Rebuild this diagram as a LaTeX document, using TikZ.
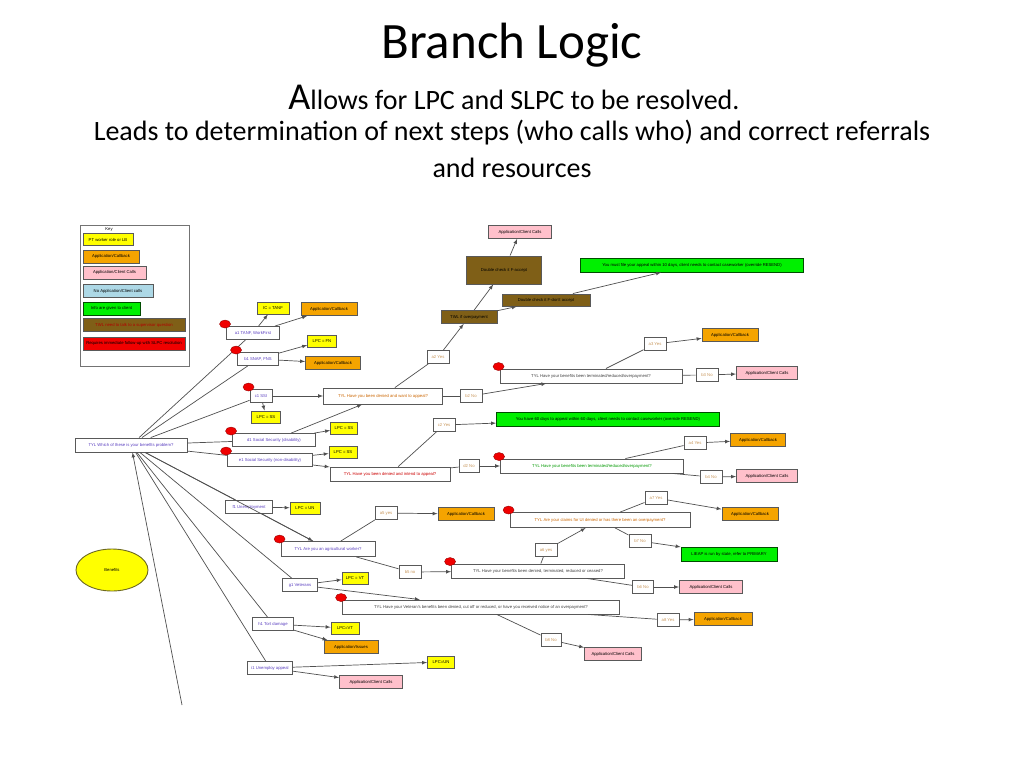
\documentclass[tikz,border=0pt]{standalone}
\usepackage{fontspec}
\setmainfont{Carlito}
\newfontfamily\dgfont{Liberation Sans}
\usepackage{xcolor}
\usepackage{tikz}
\usetikzlibrary{shapes.geometric}
\definecolor{qblue}{HTML}{5A3FC0}
\definecolor{ansc}{HTML}{C8965A}
\definecolor{dgyellow}{HTML}{FFFF00}
\definecolor{dgorange}{HTML}{F5A400}
\definecolor{dgpink}{HTML}{FFC0CB}
\definecolor{dgblue}{HTML}{ADD8E6}
\definecolor{dggreen}{HTML}{00F000}
\definecolor{dgbrown}{HTML}{7F5F17}
\definecolor{dgred}{HTML}{F00000}
\definecolor{edgec}{HTML}{505050}

\begin{document}
\begin{tikzpicture}[x=1pt,y=-1pt,
	txt/.style={font=\dgfont\fontsize{4.2}{5}\selectfont},
	box/.style={txt,draw=black!65,line width=0.9pt,fill=white,inner sep=0.5pt,minimum height=13,minimum width=#1},
	qbox/.style={box=#1,minimum height=14},
	ans/.style={box=22,text=ansc},
	ybox/.style={box=#1,fill=dgyellow,minimum height=12},
	obox/.style={box=#1,fill=dgorange},
	pbox/.style={box=#1,fill=dgpink},
	gbox/.style={box=#1,fill=dggreen,draw=green!30!black,minimum height=14},
	bbox/.style={box=#1,fill=dgbrown},
	line/.style={draw=edgec,line width=0.7pt},
	edge/.style={line,-latex}]
	% page
	\fill[white] (0,0) rectangle (1024,768);
	\useasboundingbox (0,0) rectangle (1024,768);

	% Draw title
	\node[font=\fontsize{51}{56}\selectfont] (title) at (512,45) {Branch Logic};
	\node[font=\fontsize{28}{32}\selectfont] (sub1) at (514,97) {{\fontsize{38}{40}\selectfont A}llows for LPC and SLPC to be resolved.};
	\node[font=\fontsize{28}{32}\selectfont] (sub2) at (512,133) {Leads to determination of next steps (who calls who) and correct referrals};
	\node[font=\fontsize{28}{32}\selectfont] (sub3) at (512,168) {and resources};

	% Draw key
	\draw[draw=black!55,line width=0.9pt] (80,225) rectangle (189,366);
	\node[txt] (keyt) at (109,229) {Key};
	\node[ybox=50] (kyel) at (108,239.5) {PT worker role or LB};
	\node[obox=56] (kora) at (111,256.5) {Application/Callback};
	\node[pbox=63] (kpnk) at (114.5,272.5) {Application/Client Calls};
	\node[box=70,fill=dgblue] (kblu) at (118,291) {No Application/Client calls};
	\node[gbox=57,minimum height=13] (kgrn) at (111.5,308.5) {Info are given to client};
	\node[bbox=102,text=red!70!black] (kbrn) at (134,325) {TWL need to talk to a supervisor question};
	\node[box=102,fill=dgred] (kred) at (134,343.5) {Requires immediate follow-up with SLPC resolution};

	\node[ellipse,draw=olive!70!black,fill=dgyellow,line width=0.9pt,minimum width=72,minimum height=42,txt] (benef) at (112,570) {Benefits};

	% Draw root and first branches
	\node[qbox=112,text=qblue] (tyl0) at (131,445) {TYL Which of these is your benefits problem?};
	\node[box=53,text=qblue] (a1) at (253,333) {a1 TANF, WorkFirst};
	\node[box=41,text=qblue] (b1) at (258,359) {b1 SNAP, FNS};
	\node[box=22,text=qblue] (c1) at (261,396) {c1 SSI};
	\node[box=83,text=qblue] (d1) at (274,440) {d1 Social Security (disability)};
	\node[box=85,text=qblue] (e1) at (270,460) {e1 Social Security (non-disability)};
	\node[box=47,text=qblue] (f1) at (249,507) {f1 Unemployment};
	\node[box=35,text=qblue] (g1) at (300,585) {g1 Veterans};
	\node[box=41,text=qblue] (h1) at (273,624) {h1 Tort damage};
	\node[box=45,text=qblue] (i1) at (270,668) {i1 Unemploy appeal};
	\coordinate (bot) at (182,705);

	% Draw lpc and callback boxes
	\node[ybox=32] (ya1) at (273,308) {IC = TANF};
	\node[ybox=29] (yb1) at (322,341) {LPC = FN};
	\node[ybox=29] (yc1) at (266,417) {LPC = SS};
	\node[ybox=27] (yd1) at (344,428) {LPC = SS};
	\node[ybox=28] (ye1) at (343,452) {LPC = SS};
	\node[ybox=30] (yf1) at (305,508) {LPC = UN};
	\node[ybox=26] (yg1) at (355,578) {LPC = VT};
	\node[ybox=28] (yh1) at (345,628) {LPC=VT};
	\node[ybox=27] (yi1) at (441,662) {LPC=UN};
	\node[obox=56] (oa1) at (329,309) {Application/Callback};
	\node[obox=55] (ob1) at (333,363) {Application/Callback};
	\node[obox=54] (oh1) at (351,647) {Application/Issues};
	\node[pbox=63] (pi1) at (371,682) {Application/Client Calls};

	% Draw question boxes
	\node[qbox=119,minimum height=16,text=orange!80!black] (tylc1) at (383,396) {TYL Have you been denied and want to appeal?};
	\node[qbox=120,text=red!80!black] (tyle1) at (390,474) {TYL Have you been denied and intend to appeal?};
	\node[qbox=182,text=black!75] (term1) at (591,376) {TYL Have your benefits been terminated/reduced/overpayment?};
	\node[qbox=183,text=green!60!black] (term2) at (592,466) {TYL Have your benefits been terminated/reduced/overpayment?};
	\node[qbox=94,minimum height=15,text=qblue] (tylagr) at (328,549) {TYL Are you an agricultural worker?};
	\node[qbox=180,minimum height=15,text=orange!80!black] (claim) at (600,520) {TYL Are your claims for UI denied or has there been an overpayment?};
	\node[qbox=173,text=black!75] (tylden) at (538,571) {TYL Have your benefits been denied, terminated, reduced or ceased?};
	\node[qbox=277,text=black!75] (tylvet) at (481,607) {TYL Have your Veteran's benefits been denied, cut off or reduced, or have you received notice of an overpayment?};

	% Draw answers
	\node[ans] (a2) at (438,357) {a2 Yes};
	\node[ans] (b2) at (471,396) {b2 No};
	\node[ans] (a3) at (655,344) {a3 Yes};
	\node[ans] (b3) at (707,375) {b3 No};
	\node[ans] (c2) at (444,425) {c2 Yes};
	\node[ans,minimum width=20] (d2) at (469,466) {d2 No};
	\node[ans] (a4) at (695,443) {a4 Yes};
	\node[ans] (b4) at (711,477) {b4 No};
	\node[ans] (a5) at (386,513) {a5 yes};
	\node[ans] (b5) at (410,572) {b5 no};
	\node[ans] (a6) at (546,550) {a6 yes};
	\node[ans] (a7) at (656,498) {a7 Yes};
	\node[ans] (b7) at (640,541) {b7 No};
	\node[ans,minimum width=21] (b6) at (643,587) {b6 No};
	\node[ans,minimum width=20] (b8) at (551,640) {b8 No};
	\node[ans] (a8) at (668,620) {a8 Yes};

	% Draw outcomes
	\node[bbox=56] (twl) at (469,317) {TWL if overpayment};
	\node[bbox=75,minimum height=28] (dca) at (504,270) {Double check it F-accept};
	\node[bbox=88,minimum height=12] (dcn) at (546,300) {Double check it F-don't accept};
	\node[pbox=63] (ptop) at (520,232) {Application/Client Calls};
	\node[gbox=223] (gtop) at (692,265) {You must file your appeal within 10 days, client needs to contact caseworker (override RESEND)};
	\node[obox=56] (oc3) at (730,335) {Application/Callback};
	\node[pbox=61] (pc3) at (767,373) {Application/Client Calls};
	\node[gbox=223] (gmid) at (608,419) {You have 60 days to appeal within 60 days, client needs to contact caseworker (override RESEND)};
	\node[obox=55] (of3) at (758,440) {Application/Callback};
	\node[pbox=61] (pf3) at (767,476) {Application/Client Calls};
	\node[obox=56] (oa5) at (466,514) {Application/Callback};
	\node[obox=56] (ob7) at (750,514) {Application/Callback};
	\node[gbox=96] (glieap) at (729,554) {LIEAP is run by state, refer to PRIMARY};
	\node[pbox=63] (pden) at (711,587) {Application/Client Calls};
	\node[pbox=57] (pvet) at (613,654) {Application/Client Calls};
	\node[obox=58] (ovet) at (723,619) {Application/Callback};

	% Draw connectors
	\foreach \n in {a1,b1,c1,d1,e1,f1,tylagr,g1,h1,i1}
	\draw[line] (tyl0) -- (\n);
	\draw[edge] (bot) -- (tyl0);
	\draw[edge] (a1) -- (ya1);
	\draw[edge] (a1) -- (oa1);
	\draw[edge] (b1) -- (yb1);
	\draw[edge] (b1) -- (ob1);
	\draw[edge] (c1) -- (tylc1);
	\draw[edge] (c1) -- (yc1);
	\draw[edge] (d1) -- (yd1);
	\draw[edge] (d1) -- (tylc1);
	\draw[edge] (e1) -- (ye1);
	\draw[edge] (e1) -- (tyle1);
	\draw[edge] (f1) -- (yf1);
	\draw[edge] (f1) -- (tylagr);
	\draw[edge] (g1) -- (yg1);
	\draw[edge] (g1) -- (tylvet);
	\draw[edge] (h1) -- (yh1);
	\draw[edge] (h1) -- (oh1);
	\draw[edge] (i1) -- (yi1);
	\draw[edge] (i1) -- (pi1);
	\draw[line] (tylc1) -- (a2);
	\draw[edge] (a2) -- (twl);
	\draw[edge] (twl) -- (dca);
	\draw[edge] (dca) -- (ptop);
	\draw[edge] (twl) -- (dcn);
	\draw[edge] (dcn) -- (gtop);
	\draw[line] (tylc1) -- (b2);
	\draw[edge] (b2) -- (term1);
	\draw[line] (term1) -- (a3);
	\draw[edge] (a3) -- (oc3);
	\draw[line] (term1) -- (b3);
	\draw[edge] (b3) -- (pc3);
	\draw[line] (tyle1) -- (c2);
	\draw[edge] (c2) -- (gmid);
	\draw[line] (tyle1) -- (d2);
	\draw[edge] (d2) -- (term2);
	\draw[line] (term2) -- (a4);
	\draw[edge] (a4) -- (of3);
	\draw[line] (term2) -- (b4);
	\draw[edge] (b4) -- (pf3);
	\draw[line] (tylagr) -- (a5);
	\draw[edge] (a5) -- (oa5);
	\draw[line] (tylagr) -- (b5);
	\draw[edge] (b5) -- (tylden);
	\draw[line] (tylden) -- (a6);
	\draw[edge] (a6) -- (claim);
	\draw[line] (claim) -- (a7);
	\draw[edge] (a7) -- (ob7);
	\draw[line] (claim) -- (b7);
	\draw[edge] (b7) -- (glieap);
	\draw[line] (tylden) -- (b6);
	\draw[edge] (b6) -- (pden);
	\draw[line] (tylvet) -- (b8);
	\draw[edge] (b8) -- (pvet);
	\draw[line] (tylvet) -- (a8);
	\draw[edge] (a8) -- (ovet);

	% red marks
	\foreach \n in {a1,b1,c1,d1,e1,term1,term2,tylagr,claim,tylden,tylvet}
	\fill[dgred,draw=red!60!black,line width=0.4pt] ([xshift=-1pt,yshift=2pt]\n.north west) ellipse (5.5 and 4);
\end{tikzpicture}
\end{document}
